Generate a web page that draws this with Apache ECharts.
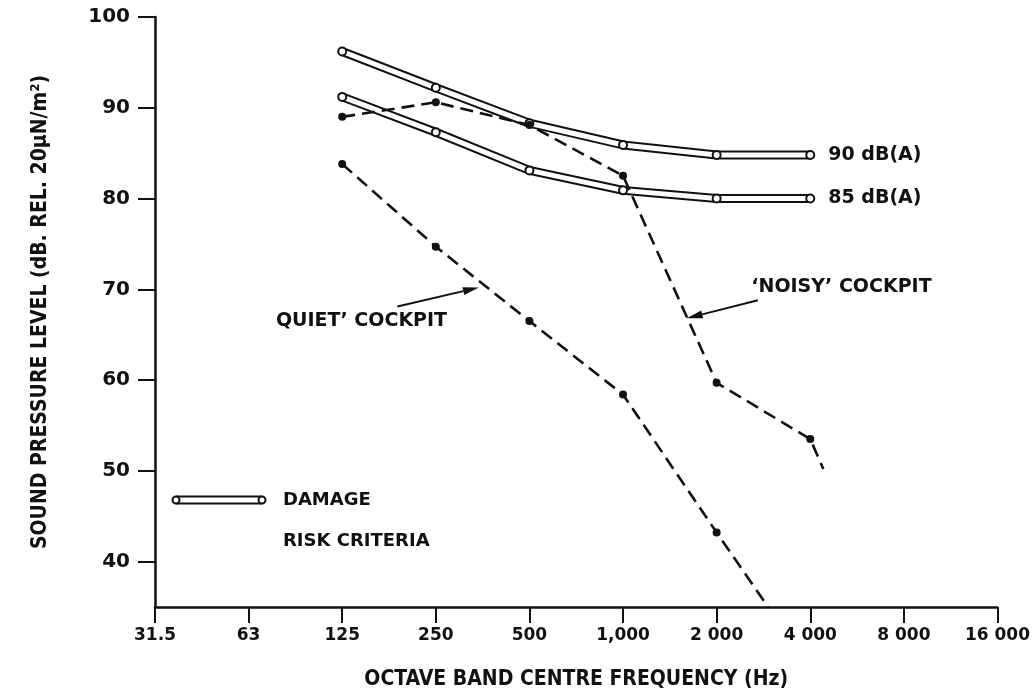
<!DOCTYPE html>
<html>
<head>
<meta charset="utf-8">
<script src="https://cdn.jsdelivr.net/npm/echarts@6/dist/echarts.min.js"></script>
<style>
html, body { margin: 0; padding: 0; background: #fff; }
#chart { width: 1033px; height: 695px; }
</style>
</head>
<body>
<div id="chart"></div>
<script>
// octave band centre frequencies, at index 0..9 along the x axis
const FREQ_LABELS = ['31.5', '63', '125', '250', '500', '1,000', '2 000', '4 000', '8 000', '16 000'];
const Y_TICKS = [40, 50, 60, 70, 80, 90, 100];

// damage risk criteria, 125 Hz .. 4 000 Hz (index 2..7)
const DRC_X = [2, 3, 4, 5, 6, 7];
const DRC_90 = [96.2, 92.2, 88.3, 85.9, 84.8, 84.8];
const DRC_85 = [91.2, 87.3, 83.1, 80.9, 80.0, 80.0];

// measured cockpit levels; last pair = where the dashed line stops (no dot)
const NOISY_X = [2, 3, 4, 5, 6, 7, 7.14];
const NOISY = [89.0, 90.6, 88.1, 82.5, 59.7, 53.5, 50.2];
const QUIET_X = [2, 3, 4, 5, 6, 6.55];
const QUIET = [83.8, 74.7, 66.5, 58.4, 43.2, 35.0];

// annotation arrows [x, y] in data space: tail -> tip
const NOISY_ARROW = [[6.44, 68.8], [5.68, 66.8]];
const QUIET_ARROW = [[2.59, 68.1], [3.46, 70.2]];
const NOISY_TEXT_AT = [6.37, 70.3];
const QUIET_TEXT_AT = [3.12, 66.5];

const INK = '#111';
const FONT = '"DejaVu Sans", sans-serif';
const NARROW = '"DejaVu Sans Condensed", "Liberation Sans Narrow", sans-serif';

const chart = echarts.init(document.getElementById('chart'));

function pts(xs, ys, lastBare) {
  return xs.map((x, i) => {
    const p = { value: [x, ys[i]] };
    if (lastBare && i === xs.length - 1) p.symbol = 'none';
    return p;
  });
}

function drcSeries(ys, label) {
  return [
    {
      type: 'line', data: pts(DRC_X, ys), symbol: 'none', silent: true, z: 1,
      lineStyle: { color: INK, width: 9 }
    },
    {
      type: 'line', data: pts(DRC_X, ys), symbol: 'circle', symbolSize: 8, z: 2,
      lineStyle: { color: '#fff', width: 5 },
      itemStyle: { color: '#fff', borderColor: INK, borderWidth: 2 },
      endLabel: {
        show: true, formatter: label, distance: 18,
        color: INK, fontFamily: FONT, fontWeight: 'bold', fontSize: 19
      }
    }
  ];
}

function dashed(xs, ys) {
  return {
    type: 'line', data: pts(xs, ys, true), symbol: 'circle', symbolSize: 8, z: 3,
    lineStyle: { color: INK, width: 2.6, type: [13, 7] },
    itemStyle: { color: INK }
  };
}

chart.setOption({
  animation: false,
  backgroundColor: '#fff',
  grid: { left: 155, right: 33, top: 17, bottom: 86 },
  xAxis: {
    type: 'value', min: 0, max: 9, interval: 1,
    name: 'OCTAVE BAND CENTRE FREQUENCY (Hz)', nameLocation: 'middle', nameGap: 62,
    nameTextStyle: { color: INK, fontFamily: NARROW, fontWeight: 'bold', fontSize: 21 },
    axisLine: { lineStyle: { color: INK, width: 2.5 } },
    axisTick: { length: 16, lineStyle: { color: INK, width: 2 } },
    axisLabel: {
      margin: 20, color: INK, fontFamily: FONT, fontWeight: 'bold', fontSize: 17,
      formatter: (v) => FREQ_LABELS[v] || ''
    },
    splitLine: { show: false }
  },
  yAxis: {
    type: 'value', min: 35, max: 100,
    name: 'SOUND PRESSURE LEVEL (dB. REL. 20µN/m²)', nameLocation: 'middle', nameGap: 104,
    nameTextStyle: { color: INK, fontFamily: NARROW, fontWeight: 'bold', fontSize: 21 },
    axisLine: { lineStyle: { color: INK, width: 2.5 } },
    axisTick: { length: 17, customValues: Y_TICKS, lineStyle: { color: INK, width: 2 } },
    axisLabel: {
      customValues: Y_TICKS, margin: 25,
      color: INK, fontFamily: FONT, fontWeight: 'bold', fontSize: 20
    },
    splitLine: { show: false }
  },
  series: [
    ...drcSeries(DRC_90, '90 dB(A)'),
    ...drcSeries(DRC_85, '85 dB(A)'),
    dashed(NOISY_X, NOISY),
    dashed(QUIET_X, QUIET)
  ]
});

// annotations placed through the chart's own coordinate conversion
function px(p) { return chart.convertToPixel({ gridIndex: 0 }, p); }

function arrow(tailData, tipData) {
  const a = px(tailData), b = px(tipData);
  const ang = Math.atan2(b[1] - a[1], b[0] - a[0]);
  const L = 16, W = 4;
  const bx = b[0] - L * Math.cos(ang), by = b[1] - L * Math.sin(ang);
  const nx = -Math.sin(ang) * W, ny = Math.cos(ang) * W;
  return [
    { type: 'line', shape: { x1: a[0], y1: a[1], x2: bx, y2: by }, style: { stroke: INK, lineWidth: 2 } },
    { type: 'polygon', shape: { points: [[b[0], b[1]], [bx + nx, by + ny], [bx - nx, by - ny]] }, style: { fill: INK } }
  ];
}

const txt = { fill: INK, fontFamily: FONT, fontWeight: 'bold', fontSize: 19 };
const nt = px(NOISY_TEXT_AT), qt = px(QUIET_TEXT_AT);

chart.setOption({
  graphic: [
    ...arrow(NOISY_ARROW[0], NOISY_ARROW[1]),
    ...arrow(QUIET_ARROW[0], QUIET_ARROW[1]),
    { type: 'text', x: nt[0], y: nt[1], style: Object.assign({ text: '\u2018NOISY\u2019 COCKPIT', align: 'left', verticalAlign: 'middle' }, txt) },
    { type: 'text', x: qt[0], y: qt[1], style: Object.assign({ text: 'QUIET\u2019 COCKPIT', align: 'right', verticalAlign: 'middle' }, txt) },
    // damage risk criteria key
    { type: 'line', shape: { x1: 176, y1: 500, x2: 262, y2: 500 }, style: { stroke: INK, lineWidth: 9 } },
    { type: 'line', shape: { x1: 176, y1: 500, x2: 262, y2: 500 }, style: { stroke: '#fff', lineWidth: 5 } },
    { type: 'circle', shape: { cx: 176, cy: 500, r: 3.5 }, style: { fill: '#fff', stroke: INK, lineWidth: 2 } },
    { type: 'circle', shape: { cx: 262, cy: 500, r: 3.5 }, style: { fill: '#fff', stroke: INK, lineWidth: 2 } },
    { type: 'text', x: 283, y: 500, style: Object.assign({ text: 'DAMAGE', verticalAlign: 'middle' }, txt, { fontSize: 18 }) },
    { type: 'text', x: 283, y: 541, style: Object.assign({ text: 'RISK CRITERIA', verticalAlign: 'middle' }, txt, { fontSize: 18 }) }
  ]
});
</script>
</body>
</html>
